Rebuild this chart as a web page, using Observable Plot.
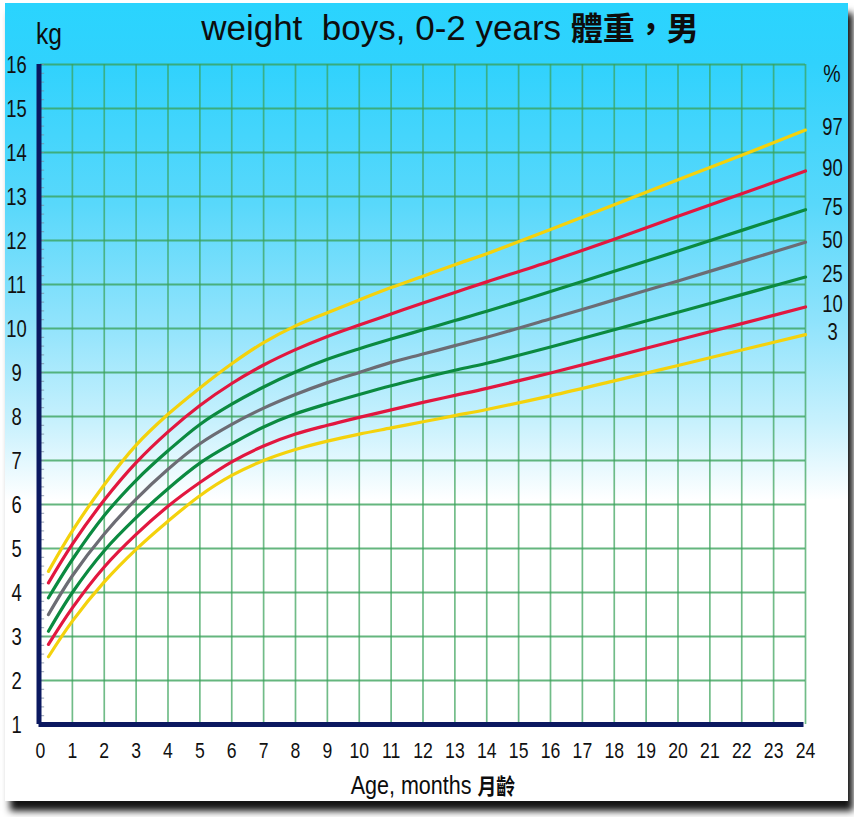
<!DOCTYPE html>
<html>
<head>
<meta charset="utf-8">
<script src="https://cdn.jsdelivr.net/npm/d3@7"></script>
<script src="https://cdn.jsdelivr.net/npm/@observablehq/plot@0.6"></script>
<style>
  body { margin: 0; background: #fff; width: 854px; height: 817px; overflow: hidden; position: relative;
         font-family: "Liberation Sans", Arial, sans-serif; }
  #frame { position: absolute; left: 5px; top: 3px; width: 843px; height: 798px;
           background: linear-gradient(to bottom, #2ad4fe 0px, #30d2fd 60px, #58d8fb 200px, #90e3fc 320px,
                        #c8f1fd 420px, #e8f9fe 465px, #ffffff 497px, #ffffff 100%);
           box-shadow: 5px 10px 7px rgba(0,0,0,0.92); }
  #chart { position: absolute; left: 0; top: 0; }
  .t { position: absolute; white-space: pre; line-height: 1; color: #0d0d0d; }
  .cjk { font-family: "Noto Sans CJK TC", "Noto Sans CJK SC", sans-serif; font-weight: 700; }
</style>
</head>
<body>
<div id="frame"></div>
<div id="chart"></div>
<div class="t" style="left:0; width:900px; text-align:center; top:10px; font-size:35px;">weight  boys, 0-2 years <span class="cjk" style="font-size:32px;">體重，男</span></div>
<div class="t" style="left:36px; top:19px; font-size:30px; transform:scaleX(0.82); transform-origin:left center;">kg</div>
<div class="t" style="left:812px; width:40px; text-align:center; top:63px; font-size:23px; transform:scaleX(0.85);">%</div>
<div class="t" style="left:233px; width:400px; text-align:center; top:773px; font-size:25px; transform:scaleX(0.86);">Age, months <span class="cjk" style="font-size:22px;">月齡</span></div>
<script>
// ---- data ----
const months = [0.25, 1, 2, 3, 4, 5, 6, 7, 8, 9, 10, 11, 12, 13, 14, 16, 18, 20, 22, 24];
const p97 = [4.48, 5.40, 6.45, 7.35, 8.05, 8.65, 9.20, 9.68, 10.06, 10.36, 10.65, 10.93, 11.19, 11.45, 11.70, 12.25, 12.81, 13.38, 13.94, 14.51];
const p90 = [4.22, 5.10, 6.10, 6.95, 7.65, 8.25, 8.75, 9.17, 9.52, 9.82, 10.08, 10.33, 10.58, 10.82, 11.06, 11.53, 12.03, 12.55, 13.06, 13.58];
const p75 = [3.88, 4.75, 5.75, 6.55, 7.22, 7.82, 8.28, 8.67, 9.01, 9.30, 9.54, 9.76, 9.97, 10.18, 10.39, 10.84, 11.30, 11.76, 12.23, 12.70];
const p50 = [3.50, 4.38, 5.33, 6.12, 6.80, 7.38, 7.82, 8.19, 8.50, 8.77, 9.00, 9.23, 9.42, 9.61, 9.80, 10.22, 10.65, 11.08, 11.52, 11.96];
const p25 = [3.12, 4.00, 4.95, 5.70, 6.36, 6.94, 7.38, 7.76, 8.06, 8.29, 8.50, 8.70, 8.88, 9.05, 9.21, 9.58, 9.97, 10.37, 10.77, 11.17];
const p10 = [2.82, 3.65, 4.58, 5.32, 5.96, 6.50, 6.97, 7.33, 7.60, 7.80, 7.98, 8.15, 8.32, 8.48, 8.64, 8.99, 9.36, 9.74, 10.11, 10.49];
const p3  = [2.54, 3.35, 4.24, 4.98, 5.62, 6.20, 6.66, 7.00, 7.25, 7.44, 7.60, 7.74, 7.88, 8.02, 8.16, 8.47, 8.81, 9.16, 9.51, 9.86];
const percentiles = ["97", "90", "75", "50", "25", "10", "3"];
const seriesValues = [p97, p90, p75, p50, p25, p10, p3];
const seriesColors = ["#f4d20c", "#e2173f", "#0b8a40", "#6c6c74", "#0b8a40", "#e2173f", "#f4d20c"];
const xTicks = d3.range(0, 25);      // 0..24 months
const yTicks = d3.range(1, 17);      // 1..16 kg
const yMinor = d3.range(1, 16.001, 0.2);

// ---- build table ----
const rows = [];
percentiles.forEach((p, i) => months.forEach((m, j) => rows.push({p, month: m, kg: seriesValues[i][j]})));
const ends = percentiles.map((p, i) => ({p, month: 24, kg: seriesValues[i][seriesValues[i].length - 1]}));

const grid = "#3aa25a";
const navy = "#0b1860";

const chart = Plot.plot({
  width: 854,
  height: 817,
  marginLeft: 40,
  marginRight: 49,
  marginTop: 64,
  marginBottom: 93,
  x: {domain: [0, 24], axis: null},
  y: {domain: [1, 16], axis: null},
  color: {domain: percentiles, range: seriesColors},
  style: {background: "transparent", overflow: "visible", fontFamily: '"Liberation Sans", Arial, sans-serif'},
  marks: [
    Plot.ruleY(yTicks.filter(d => d > 1), {stroke: grid, strokeWidth: 2.2, strokeOpacity: 0.78}),
    Plot.ruleX(xTicks.filter(d => d > 0), {y1: 1, y2: 16, stroke: grid, strokeWidth: 1.7, strokeOpacity: 0.72}),
    Plot.ruleY(yMinor, {x1: 0, x2: 0.13, stroke: "#7d8aa0", strokeWidth: 1, strokeOpacity: 0.8}),
    Plot.line(rows, {x: "month", y: "kg", z: "p", stroke: "p", strokeWidth: 3.2, curve: "catmull-rom"}),
    Plot.ruleX([0], {y1: 1, y2: 16, stroke: navy, strokeWidth: 5, dx: -1.5}),
    Plot.ruleY([1], {x1: 0, x2: 24, stroke: navy, strokeWidth: 5, dx: -1.5}),
    Plot.text(yTicks, {x: 0, y: d => d, text: d => String(d), dx: -24, dy: 1, textAnchor: "middle",
      fontSize: 23, fill: "#111"}),
    Plot.text(xTicks, {x: d => d, y: 1, text: d => String(d), dy: 26, textAnchor: "middle",
      fontSize: 22, fill: "#111"}),
    Plot.text(ends, {x: "month", y: "kg", text: "p", dx: 27, dy: -2, textAnchor: "middle",
      fontSize: 23, fill: "#111"})
  ]
});
document.getElementById("chart").appendChild(chart);
// condense numeric labels (Arial Narrow look)
chart.querySelectorAll("text").forEach(t => {
  const len = t.getComputedTextLength();
  if (len > 0) {
    t.setAttribute("textLength", (len * 0.8).toFixed(2));
    t.setAttribute("lengthAdjust", "spacingAndGlyphs");
  }
});
</script>
</body>
</html>
